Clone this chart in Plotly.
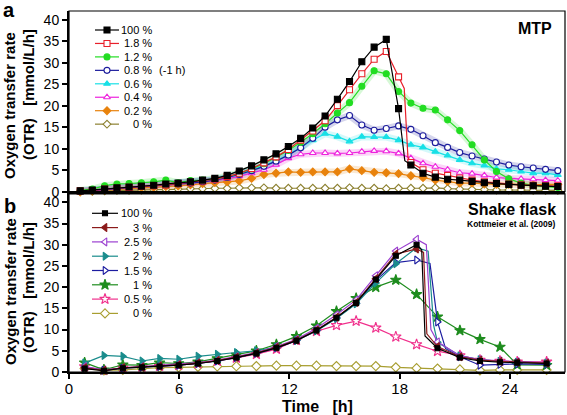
import plotly.graph_objects as go

FONT = "Liberation Sans, Arial, sans-serif"

# ---------------- Panel a : MTP ----------------
t_mtp = [0.61, 1.27, 1.94, 2.61, 3.27, 3.94, 4.61, 5.27, 5.94, 6.61,
         7.27, 7.94, 8.61, 9.27, 9.94, 10.61, 11.27, 11.94, 12.61, 13.27,
         13.94, 14.61, 15.27, 15.94, 16.61, 17.27, 17.94, 18.61, 19.27, 19.94,
         20.61, 21.27, 21.94, 22.61, 23.27, 23.94, 24.61, 25.27, 25.94, 26.61]

mtp_100 = [0.2, 0.4, 0.6, 0.9, 1.1, 1.3, 1.5, 1.8, 2.0, 2.3,
           2.7, 3.1, 3.8, 4.8, 6.0, 7.4, 8.8, 10.5, 12.4, 14.8,
           17.6, 21.5, 25.6, 30.2, 33.6, 35.4, 19.3, 6.2, 4.3, 3.4,
           2.9, 2.7, 2.4, 2.1, 1.9, 1.7, 1.5, 1.4, 1.3, 1.2]
mtp_18 = [0.2, 0.3, 0.6, 0.8, 1.0, 1.2, 1.4, 1.6, 1.9, 2.2,
          2.5, 2.9, 3.5, 4.3, 5.4, 6.7, 8.1, 9.8, 12.0, 14.1,
          16.5, 20.0, 23.7, 27.4, 30.8, 32.6, 26.7, 6.8, 5.1, 4.3,
          3.8, 3.2, 2.7, 2.3, 2.0, 1.8, 1.6, 1.5, 1.4, 1.3]
mtp_12 = [0.3, 0.6, 1.4, 1.8, 1.9, 2.1, 2.3, 2.7, 2.1, 2.6,
          2.7, 3.0, 3.5, 4.3, 5.3, 6.5, 8.0, 9.6, 11.5, 13.5,
          15.8, 18.3, 20.7, 24.5, 28.1, 27.4, 23.3, 20.6, 19.4, 19.0,
          16.7, 14.2, 10.9, 7.4, 4.7, 3.0, 2.0, 1.5, 1.2, 1.0]
mtp_08 = [0.1, 0.3, 0.5, 0.8, 1.0, 1.2, 1.4, 1.6, 1.8, 2.0,
          2.3, 2.7, 3.3, 4.0, 4.9, 5.9, 7.1, 8.5, 10.2, 12.4,
          15.0, 16.7, 17.7, 15.5, 14.3, 14.7, 15.3, 14.5, 13.0, 11.4,
          10.3, 9.1, 8.3, 7.6, 6.9, 6.2, 5.8, 5.5, 5.2, 4.9]
mtp_06 = [0.2, 0.4, 0.6, 0.9, 1.1, 1.3, 1.5, 1.7, 1.9, 2.1,
          2.4, 2.8, 3.3, 4.1, 5.0, 6.0, 7.2, 8.6, 10.3, 12.0,
          13.5, 12.8, 11.7, 12.8, 12.7, 12.7, 12.0, 10.9, 10.3, 9.3,
          8.4, 7.4, 6.6, 6.1, 5.3, 5.1, 4.7, 4.3, 4.3, 3.9]
mtp_04 = [0.1, 0.3, 0.5, 0.7, 0.9, 1.1, 1.3, 1.5, 1.7, 1.9,
          2.2, 2.6, 3.0, 3.6, 4.3, 5.1, 6.3, 7.8, 8.7, 9.0,
          9.0, 8.9, 9.0, 9.3, 9.5, 9.4, 8.9, 7.8, 6.6, 5.8,
          5.1, 4.4, 4.2, 3.8, 3.3, 3.1, 3.0, 2.9, 2.7, 2.6]
mtp_02 = [0.0, 0.2, 0.4, 0.5, 0.7, 0.9, 1.0, 1.2, 1.3, 1.6,
          1.9, 2.1, 2.3, 2.5, 3.1, 4.0, 4.3, 4.6, 4.5, 4.6,
          4.6, 4.6, 5.3, 4.9, 4.5, 4.4, 4.2, 3.7, 3.3, 2.7,
          2.4, 2.0, 2.0, 1.8, 1.7, 1.7, 1.6, 1.6, 1.7, 1.7]
mtp_0 = [0.0, 0.1, 0.2, 0.3, 0.3, 0.4, 0.5, 0.5, 0.6, 0.7,
         0.7, 0.8, 0.8, 0.9, 0.9, 0.9, 0.8, 0.8, 0.8, 0.8,
         0.8, 0.8, 0.9, 0.8, 0.8, 0.7, 0.8, 0.8, 0.8, 0.9,
         0.7, 0.6, 0.5, 0.5, 0.4, 0.4, 0.4, 0.3, 0.3, 0.3]

# un-marked vertices on the steep drops
mtp_100_drop_t = [18.28]
mtp_100_drop = [7.2]
mtp_18_drop_t = [18.25, 18.45]
mtp_18_drop = [24.0, 8.0]

# ---------------- Panel b : shake flask ----------------
t_sf = [0.85, 1.9, 2.93, 3.97, 4.93, 5.97, 7.02, 8.07, 9.11, 10.2,
        11.29, 12.38, 13.47, 14.56, 15.63, 16.7, 17.79, 18.92, 20.06, 21.28,
        22.37, 23.46, 24.4, 26.0]

sf_100 = [0.8, 0.3, 0.9, 1.1, 1.3, 1.6, 2.0, 2.6, 3.4, 4.4,
          5.7, 7.4, 9.8, 12.8, 16.3, 21.8, 27.4, 30.0, 5.6, 3.4,
          2.6, 2.3, 2.2, 2.0]
sf_3 = [1.0, 0.4, 1.0, 1.2, 1.4, 1.7, 2.1, 2.7, 3.5, 4.5,
        5.8, 7.5, 9.9, 12.9, 16.4, 22.0, 27.8, 29.0, 6.0, 3.6,
        2.8, 2.5, 2.3, 2.1]
sf_25 = [1.3, 0.5, 1.0, 1.3, 1.5, 1.8, 2.2, 2.8, 3.6, 4.6,
         6.0, 7.7, 10.3, 13.5, 17.0, 22.7, 28.5, 31.3, 7.1, 3.8,
         2.9, 2.6, 2.4, 2.2]
sf_2 = [2.1, 3.9, 3.7, 2.6, 3.2, 3.0, 3.7, 4.2, 4.6, 5.0,
        5.9, 7.5, 9.7, 12.6, 16.1, 21.0, 25.5, 29.3, 7.0, 3.8,
        2.9, 2.5, 2.3, 2.1]
sf_15 = [1.0, 0.4, 0.9, 1.1, 1.3, 1.6, 2.0, 2.6, 3.4, 4.4,
         5.7, 7.4, 9.8, 12.8, 16.2, 21.6, 25.8, 26.4, 11.8, 3.6,
         1.6, 1.8, 1.9, 1.8]
sf_1 = [2.2, 0.5, 1.7, 1.6, 2.2, 2.0, 2.4, 3.2, 4.0, 5.0,
        6.5, 8.4, 10.9, 14.3, 17.4, 20.0, 21.7, 18.3, 13.0, 9.8,
        7.7, 5.9, 1.7, 1.6]
sf_05 = [1.3, 0.4, 1.0, 1.2, 1.4, 1.6, 2.0, 2.6, 3.3, 4.2,
         5.4, 7.5, 9.6, 11.0, 12.0, 10.4, 8.3, 6.5, 4.9, 3.9,
         2.8, 2.6, 2.4, 2.4]
sf_0 = [0.8, 0.4, 0.5, 0.8, 1.0, 1.1, 1.2, 1.3, 1.35, 1.4,
        1.5, 1.5, 1.5, 1.4, 1.4, 1.4, 1.1, 0.9, 0.8, 0.6,
        0.4, 0.5, 0.5, 0.5]

sf_100_drop_t = [19.2, 19.38]
sf_100_drop = [28.8, 8.5]
sf_3_drop_t = [19.3, 19.48]
sf_3_drop = [28.2, 9.0]
sf_25_drop_t = [19.45, 19.7]
sf_25_drop = [30.0, 10.0]
sf_2_drop_t = [19.55, 19.85]
sf_2_drop = [28.5, 11.0]
sf_15_drop_t = [19.65, 20.5]
sf_15_drop = [25.6, 5.5]

y_ticks = [0, 5, 10, 15, 20, 25, 30, 35, 40]
x_ticks = [0, 6, 12, 18, 24]

# ---------------- styles ----------------
series_a = [
    dict(label="100 %", suffix="", y=mtp_100, et=mtp_100_drop_t, ey=mtp_100_drop,
         color="#000000", symbol="square", filled=True, halo=False),
    dict(label="1.8 %", suffix="", y=mtp_18, et=mtp_18_drop_t, ey=mtp_18_drop,
         color="#e8202a", symbol="square", filled=False, halo=False),
    dict(label="1.2 %", suffix="", y=mtp_12, color="#22dd22", symbol="circle",
         filled=True, halo=True),
    dict(label="0.8 %", suffix="\u00a0(-1 h)", y=mtp_08, color="#1c1c9c",
         symbol="circle", filled=False, halo=True),
    dict(label="0.6 %", suffix="", y=mtp_06, color="#18e0e6", symbol="triangle-up",
         filled=True, halo=True),
    dict(label="0.4 %", suffix="", y=mtp_04, color="#ee22dd", symbol="triangle-up",
         filled=False, halo=True),
    dict(label="0.2 %", suffix="", y=mtp_02, color="#e8820c", symbol="diamond",
         filled=True, halo=True),
    dict(label="0 %", suffix="", y=mtp_0, color="#8c8030", symbol="diamond",
         filled=False, halo=False),
]

series_b = [
    dict(label="100 %", y=sf_100, et=sf_100_drop_t, ey=sf_100_drop, color="#000000",
         symbol="square", filled=True, size=5),
    dict(label="3 %", y=sf_3, et=sf_3_drop_t, ey=sf_3_drop, color="#8b1a1a",
         symbol="triangle-left", filled=True, size=7),
    dict(label="2.5 %", y=sf_25, et=sf_25_drop_t, ey=sf_25_drop, color="#9b40d0",
         symbol="triangle-left", filled=False, size=7),
    dict(label="2 %", y=sf_2, et=sf_2_drop_t, ey=sf_2_drop, color="#1a8c8c",
         symbol="triangle-right", filled=True, size=7),
    dict(label="1.5 %", y=sf_15, et=sf_15_drop_t, ey=sf_15_drop, color="#1c1ca0",
         symbol="triangle-right", filled=False, size=7),
    dict(label="1 %", y=sf_1, color="#1e8c1e", symbol="star", filled=True, size=8),
    dict(label="0.5 %", y=sf_05, color="#f0308c", symbol="star", filled=False, size=8),
    dict(label="0 %", y=sf_0, color="#a89e30", symbol="diamond", filled=False, size=7),
]

W, H = 567, 415
ML, MR, MT, MB = 69, 2, 11, 43
PW = W - ML - MR
PH = H - MT - MB
SIZE_A = 6


def px(xp):
    return (xp - ML) / PW


def py(yp):
    return 1 - (yp - MT) / PH


def merge(t, y, et, ey):
    pts = [(a, b, True) for a, b in zip(t, y)] + [(a, b, False) for a, b in zip(et, ey)]
    pts.sort(key=lambda p: p[0])
    return [p[0] for p in pts], [p[1] for p in pts], [p[2] for p in pts]


fig = go.Figure()


def add_series(t, s, xa, ya, size):
    xs, ys, marked = merge(t, s["y"], s.get("et", []), s.get("ey", []))
    fill = s["color"] if s["filled"] else "white"
    fig.add_trace(go.Scatter(
        x=xs, y=ys, xaxis=xa, yaxis=ya, mode="lines+markers",
        line=dict(color=s["color"], width=1.2),
        marker=dict(symbol=s["symbol"], size=[size if m else 0 for m in marked],
                    opacity=[1 if m else 0 for m in marked], color=fill,
                    line=dict(color=s["color"], width=1.1)),
        showlegend=False, cliponaxis=False, hoverinfo="skip"))


# halos (shaded spread around the MTP curves)
for s in series_a:
    if s["halo"]:
        fig.add_trace(go.Scatter(x=t_mtp, y=s["y"], xaxis="x2", yaxis="y2", mode="lines",
                                 line=dict(color=s["color"], width=7), opacity=0.18,
                                 showlegend=False, hoverinfo="skip"))

for s in reversed(series_a):
    add_series(t_mtp, s, "x2", "y2", SIZE_A)
for s in reversed(series_b):
    add_series(t_sf, s, "x", "y", s["size"])

# ---------------- hand-drawn legends on a pixel overlay ----------------
annotations = []


def legend_entry(s, yy, x0, xm, x1, size, xtext):
    fill = s["color"] if s["filled"] else "white"
    fig.add_trace(go.Scatter(
        x=[x0, xm, x1], y=[yy, yy, yy], xaxis="x3", yaxis="y3", mode="lines+markers",
        line=dict(color=s["color"], width=1.2),
        marker=dict(symbol=s["symbol"], size=[0, size, 0], opacity=[0, 1, 0], color=fill,
                    line=dict(color=s["color"], width=1.1)),
        showlegend=False, hoverinfo="skip", cliponaxis=False))
    annotations.append(dict(x=px(xtext), y=py(yy), xref="paper", yref="paper",
                            text=s["label"], showarrow=False, xanchor="right",
                            yanchor="middle", font=dict(family=FONT, size=11, color="black")))
    if s.get("suffix"):
        annotations.append(dict(x=px(xtext), y=py(yy), xref="paper", yref="paper",
                                text=s["suffix"], showarrow=False, xanchor="left",
                                yanchor="middle", font=dict(family=FONT, size=11, color="black")))


for i, s in enumerate(series_a):
    legend_entry(s, 30 + i * 13.45, 95, 107, 119, SIZE_A, 153.5)
for i, s in enumerate(series_b):
    legend_entry(s, 213.3 + i * 14.3, 92, 105, 118, s["size"], 153.5)

# ---------------- text ----------------
bold = lambda txt: "<b>" + txt + "</b>"
texts = [
    ("a", 9, 10, 20, 0, "center"),
    ("b", 10, 206, 20, 0, "center"),
    ("Oxygen transfer rate", 10, 106, 15, -90, "center"),
    ("(OTR)\u00a0\u00a0\u00a0[mmol/L/h]", 28, 95, 15, -90, "center"),
    ("Oxygen transfer rate", 10, 292, 15, -90, "center"),
    ("(OTR)\u00a0\u00a0\u00a0[mmol/L/h]", 28, 288, 15, -90, "center"),
    ("Time\u00a0\u00a0\u00a0[h]", 317, 406, 16, 0, "center"),
    ("MTP", 554, 29, 16, 0, "right"),
    ("Shake flask", 558, 209, 16, 0, "right"),
    ("Kottmeier et al. (2009)", 558, 224, 8.5, 0, "right"),
]
for txt, xx, yy, fs, ang, anc in texts:
    annotations.append(dict(x=px(xx), y=py(yy), xref="paper", yref="paper", text=bold(txt),
                            showarrow=False, xanchor=anc, yanchor="middle", textangle=ang,
                            font=dict(family=FONT, size=fs, color="black")))

yax = dict(range=[0, 42], tickvals=y_ticks, ticks="outside", ticklen=5, tickwidth=1.5,
           tickcolor="black", showline=True, linewidth=2, linecolor="black",
           showgrid=False, zeroline=False, tickfont=dict(family=FONT, size=14, color="black"))

fig.update_layout(
    width=W, height=H, margin=dict(l=ML, r=MR, t=MT, b=MB),
    paper_bgcolor="white", plot_bgcolor="rgba(0,0,0,0)", showlegend=False,
    xaxis=dict(domain=[0, 1], anchor="y", range=[0, 27], tickvals=x_ticks, ticks="outside",
               ticklen=5, tickwidth=1.5, tickcolor="black", showline=True, linewidth=2,
               linecolor="black", showgrid=False, zeroline=False, ticklabelstandoff=-3,
               tickfont=dict(family=FONT, size=15, color="black")),
    yaxis=dict(domain=[0, 0.4936], anchor="x", **yax),
    xaxis2=dict(domain=[0, 1], anchor="y2", matches="x", range=[0, 27], showticklabels=False,
                ticks="", showline=True, linewidth=2, linecolor="black", showgrid=False,
                zeroline=False),
    yaxis2=dict(domain=[0.4994, 1.0], anchor="x2", **yax),
    xaxis3=dict(domain=[0, 1], anchor="y3", range=[ML, W - MR], visible=False),
    yaxis3=dict(domain=[0, 1], anchor="x3", range=[H - MB, MT], visible=False),
    annotations=annotations,
    shapes=[
        dict(type="rect", xref="x2 domain", yref="y2 domain", x0=0, x1=1, y0=0, y1=1,
             line=dict(color="black", width=1.2), layer="above"),
        dict(type="rect", xref="x domain", yref="y domain", x0=0, x1=1, y0=0, y1=1,
             line=dict(color="black", width=1.2), layer="above"),
    ],
)

fig.write_html("out.html", config={"displayModeBar": False},
               post_script="document.body.style.margin='0';")
